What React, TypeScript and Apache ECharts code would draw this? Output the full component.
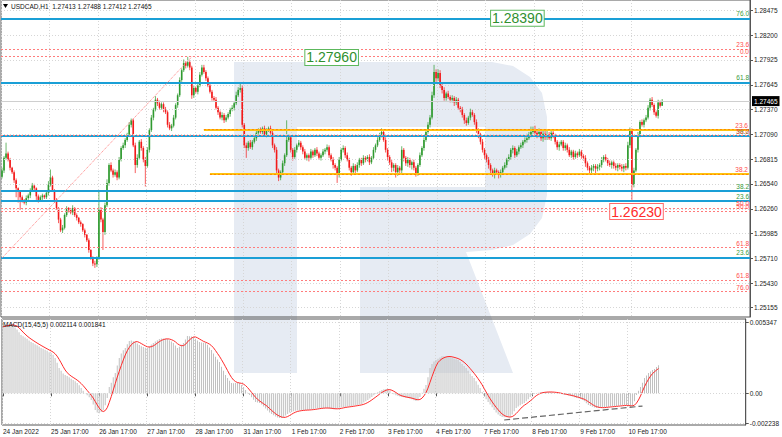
import React, { useEffect, useRef } from "react";
import * as echarts from "echarts";

// ---------- DATA ----------
const firstOpen = 1.2662;
const closes = [
  1.2669,1.2683,1.2688,1.2681,1.2672,1.2667,1.2658,1.2649,1.2645,1.2639,
  1.2636,1.2633,1.2638,1.2641,1.2647,1.2652,1.2649,1.2640,1.2636,1.2639,
  1.2641,1.2639,1.2644,1.2653,1.2661,1.2647,1.2636,1.2627,1.2614,1.2602,
  1.2605,1.2619,1.2627,1.2625,1.2622,1.2627,1.2619,1.2616,1.2611,1.2609,
  1.2602,1.2597,1.2591,1.2580,1.2571,1.2565,1.2564,1.2571,1.2625,1.2614,
  1.2600,1.2630,1.2655,1.2675,1.2669,1.2664,1.2667,1.2661,1.2681,1.2694,
  1.2697,1.2703,1.2709,1.2720,1.2725,1.2697,1.2675,1.2683,1.2701,1.2694,
  1.2681,1.2674,1.2692,1.2714,1.2728,1.2737,1.2748,1.2744,1.2739,1.2743,
  1.2737,1.2734,1.2720,1.2716,1.2719,1.2728,1.2742,1.2753,1.2770,1.2781,
  1.2789,1.2786,1.2790,1.2784,1.2753,1.2761,1.2757,1.2764,1.2776,1.2784,
  1.2779,1.2772,1.2764,1.2757,1.2750,1.2748,1.2739,1.2734,1.2728,1.2731,
  1.2725,1.2728,1.2732,1.2737,1.2739,1.2744,1.2753,1.2759,1.2761,1.2720,
  1.2697,1.2694,1.2700,1.2695,1.2701,1.2705,1.2711,1.2714,1.2712,1.2716,
  1.2709,1.2714,1.2716,1.2711,1.2697,1.2692,1.2669,1.2661,1.2667,1.2677,
  1.2686,1.2703,1.2706,1.2692,1.2684,1.2692,1.2697,1.2700,1.2695,1.2690,
  1.2683,1.2686,1.2683,1.2690,1.2686,1.2692,1.2688,1.2683,1.2686,1.2690,
  1.2692,1.2695,1.2686,1.2681,1.2675,1.2672,1.2664,1.2681,1.2692,1.2694,
  1.2686,1.2681,1.2672,1.2667,1.2674,1.2669,1.2675,1.2681,1.2677,1.2683,
  1.2681,1.2684,1.2678,1.2683,1.2692,1.2697,1.2703,1.2709,1.2712,1.2703,
  1.2692,1.2684,1.2678,1.2672,1.2675,1.2667,1.2672,1.2669,1.2692,1.2683,
  1.2677,1.2681,1.2675,1.2678,1.2672,1.2666,1.2675,1.2686,1.2694,1.2703,
  1.2712,1.2720,1.2728,1.2753,1.2779,1.2772,1.2778,1.2764,1.2759,1.2750,
  1.2755,1.2751,1.2748,1.2750,1.2745,1.2748,1.2739,1.2737,1.2731,1.2725,
  1.2722,1.2728,1.2734,1.2731,1.2723,1.2714,1.2709,1.2701,1.2692,1.2686,
  1.2681,1.2675,1.2669,1.2666,1.2669,1.2667,1.2664,1.2667,1.2672,1.2675,
  1.2681,1.2684,1.2692,1.2694,1.2686,1.2690,1.2695,1.2697,1.2701,1.2703,
  1.2705,1.2709,1.2712,1.2714,1.2711,1.2709,1.2712,1.2705,1.2710,1.2706,
  1.2709,1.2705,1.2711,1.2707,1.2701,1.2695,1.2698,1.2701,1.2694,1.2697,
  1.2692,1.2686,1.2690,1.2684,1.2688,1.2686,1.2690,1.2685,1.2683,1.2677,
  1.2672,1.2669,1.2672,1.2674,1.2671,1.2673,1.2675,1.2681,1.2684,1.2681,
  1.2677,1.2675,1.2678,1.2674,1.2672,1.2675,1.2673,1.2671,1.2674,1.2672,
  1.2697,1.2714,1.2653,1.2669,1.2692,1.2709,1.2723,1.2720,1.2725,1.2728,
  1.2739,1.2748,1.2742,1.2734,1.2730,1.2745,1.27413,1.27465,
];
// wick lengths in pips (above body / below body)
const upWick = [
  3,2,12,2,2,1,2,2,1,2, 2,1,3,2,2,3,2,1,2,2, 2,1,3,4,9,2,1,2,1,2, 3,2,2,1,2,3,1,2,1,2,
  1,2,1,2,1,2,3,2,20,3, 2,3,4,2,3,2,3,2,3,2, 3,2,2,3,2,2,3,4,2,3, 2,3,3,2,3,2,4,2,3,2,
  2,3,2,3,2,3,2,2,3,2, 4,2,6,2,2,3,2,2,3,3, 3,2,2,3,2,2,3,2,2,3, 2,3,2,2,3,2,4,3,5,3,
  2,3,2,3,2,3,2,2,3,2, 3,2,2,3,2,2,3,2,2,3, 2,22,3,2,2,3,2,3,2,2, 3,2,2,3,2,2,3,2,2,3,
  2,3,2,2,3,2,2,3,2,3, 2,3,2,2,3,2,3,2,2,3, 2,2,3,2,3,2,3,2,4,2, 3,2,2,3,2,2,3,2,4,2,
  2,3,2,2,3,2,2,3,2,3, 2,3,3,4,8,3,4,3,2,3, 2,3,2,3,2,3,2,2,3,2, 3,2,4,3,2,3,2,2,3,2,
  2,3,2,2,3,2,2,3,2,3, 2,3,2,3,2,3,2,3,2,3, 5,3,6,4,5,3,4,3,4,3, 4,3,3,2,3,2,3,2,2,3,
  2,3,2,2,3,2,3,2,2,3, 2,2,3,2,2,3,2,3,2,3, 2,3,2,2,3,2,2,3,2,3, 4,3,2,3,2,3,2,3,2,3,
  3,2,3,2,2,3,2,2.3,
];
const downWick = [
  2,3,2,2,3,2,3,10,12,14, 3,2,3,2,3,2,3,4,3,2, 3,2,2,3,2,2,3,2,4,2, 3,2,2,3,2,3,2,3,2,3,
  2,3,2,3,2,3,4,3,2,3, 20,3,2,3,2,3,2,3,2,2, 2,3,2,2,3,2,9,3,2,3, 3,23,2,3,2,3,2,3,2,2,
  3,2,3,2,3,2,2,3,2,2, 2,3,2,3,4,3,2,3,2,2, 2,3,2,2,3,2,2,3,2,3, 3,2,2,3,2,3,2,2,3,3,
  3,11,3,2,3,2,3,2,2,3, 2,3,2,2,3,3,4,4,3,2, 3,2,2,3,4,2,3,2,3,3, 2,3,4,2,3,2,3,2,3,2,
  3,2,3,2,4,3,9,3,2,3, 3,2,3,4,3,3,2,3,3,2, 3,2,3,2,2,3,2,2,3,2, 3,4,3,5,4,6,4,3,3,4,
  3,4,3,5,3,4,3,2,2,3, 2,2,3,2,3,4,3,3,4,3, 3,2,3,3,4,3,2,3,3,4, 3,2,3,2,3,3,4,3,3,4,
  3,4,5,4,6,3,4,3,3,2, 3,2,3,4,3,2,3,2,3,2, 3,2,3,2,3,4,3,3,4,3, 3,2,3,2,3,3,4,2,3,3,
  3,2,3,3,2,3,2,3,3,4, 3,3,4,4,6,3,4,3,3,2, 3,2,4,3,3,4,3,3,4,3, 2,3,17,3,2,3,3,2,3,2,
  2,3,2,3,2,3,2,0.1,
];
// MACD(15,45,5) main values, in thousandths
const macdMilli = [
  5.0,5.1,5.15,5.2,5.2,5.1,4.95,4.8,4.6,4.4, 4.3,4.2,4.1,3.98,3.86,3.78,3.7,3.62,3.52,3.41,
  3.35,3.28,3.2,3.1,3.03,2.9,2.66,2.3,1.9,1.7, 1.5,1.38,1.3,1.2,1.1,1.0,0.9,0.78,0.6,0.4,
  0.2,0.02,-0.15,-0.3,-0.5,-0.85,-1.26,-1.45,-1.5,-1.4, -1.26,-0.9,-0.35,0.47,0.8,1.2,1.53,2.1,2.66,3.0,
  3.25,3.41,3.7,3.94,3.98,3.92,3.86,3.76,3.64,3.55, 3.48,3.44,3.41,3.55,3.68,3.79,3.9,4.0,4.09,4.12,
  4.12,4.1,4.09,4.0,3.9,3.79,3.6,3.41,3.5,3.65, 3.79,4.05,4.31,4.3,4.28,4.24,4.1,3.98,3.86,3.83,
  3.8,3.79,3.65,3.45,3.26,3.0,2.75,2.55,2.36,2.0, 1.7,1.38,1.15,0.95,0.78,0.75,0.78,0.8,0.78,0.62,
  0.47,0.25,0.05,-0.13,-0.3,-0.48,-0.66,-0.7,-0.73,-0.85, -1.0,-1.15,-1.3,-1.45,-1.55,-1.65,-1.75,-1.82,-1.86,-1.86,
  -1.8,-1.68,-1.55,-1.45,-1.4,-1.35,-1.32,-1.3,-1.28,-1.27, -1.26,-1.25,-1.26,-1.24,-1.2,-1.18,-1.15,-1.13,-1.12,-1.1,
  -1.1,-1.1,-1.12,-1.15,-1.18,-1.2,-1.18,-1.12,-1.08,-1.05, -1.03,-1.03,-1.0,-0.98,-0.95,-0.92,-0.9,-0.88,-0.85,-0.8,
  -0.7,-0.6,-0.5,-0.4,-0.28,-0.15,-0.05,0.08,0.18,0.25, 0.3,0.32,0.3,0.2,0.02,-0.08,-0.15,-0.2,-0.25,-0.28,
  -0.3,-0.33,-0.35,-0.4,-0.45,-0.52,-0.58,-0.5,-0.28,0.05, 0.35,0.62,1.2,1.9,2.2,2.4,2.5,2.6,2.7,2.8,
  2.8,2.78,2.75,2.73,2.68,2.62,2.56,2.5,2.38,2.2, 2.05,1.9,1.7,1.5,1.3,1.15,0.9,0.65,0.4,0.1,
  -0.2,-0.45,-0.66,-0.85,-1.05,-1.26,-1.45,-1.6,-1.7,-1.78, -1.8,-1.8,-1.79,-1.78,-1.6,-1.35,-1.1,-1.0,-0.9,-0.8,
  -0.73,-0.6,-0.45,-0.28,-0.15,-0.05,0.02,0.05,0.08,0.1, 0.1,0.1,0.1,0.1,0.08,0.05,0.02,0.0,-0.05,-0.08,
  -0.1,-0.13,-0.17,-0.2,-0.25,-0.3,-0.35,-0.38,-0.43,-0.5, -0.6,-0.75,-0.88,-0.95,-1.02,-1.06,-1.1,-1.1,-1.08,-1.06,
  -1.05,-1.03,-1.01,-1.0,-0.98,-0.97,-0.96,-0.94,-0.92,-0.9, -0.88,-0.9,-0.98,-1.03,-0.95,-0.6,-0.13,0.2,0.47,0.8,
  1.15,1.35,1.53,1.65,1.75,1.83,1.98,2.114,
];
const dayLabels = [
  "24 Jan 2022","25 Jan 17:00","26 Jan 17:00","27 Jan 17:00","28 Jan 17:00","31 Jan 17:00",
  "1 Feb 17:00","2 Feb 17:00","3 Feb 17:00","4 Feb 17:00","7 Feb 17:00","8 Feb 17:00",
  "9 Feb 17:00","10 Feb 17:00",
];
const priceTicks = [1.28475,1.282,1.27925,1.27645,1.2737,1.2709,1.26815,1.2654,1.2626,1.25985,1.2571,1.2543,1.25155];
const macdTicks = [0.005347, 0, -0.002238];

// Fibonacci / level lines
const levelPrices = [1.2839,1.28045,1.27965,1.27675,1.27147,1.27075,1.27078,1.2665,1.2646,1.26353,1.26266,1.26236,1.25826,1.25718,1.25461,1.25334];
const levelTexts  = ["76.0","23.6","0.0","61.8","23.6","38.2","50.0","38.2","38.2","23.6","50.0","50.0","61.8","23.6","61.8","76.0"];
const levelKinds  = ["blue","red","red","blue","orange","blue","red","orange","blue","blue","red","red","red","blue","red","red"];
const levelStart  = [0,0,0,0,100,0,0,103,0,0,0,0,0,0,0,0];

const lastPrice = 1.27465;
const fibTrend = { fromBar: 0, fromPrice: 1.2571, toBar: 94, toPrice: 1.2796 };
const macdTrend = { fromBar: 250, fromVal: -0.00201, toBar: 319, toVal: -0.00096 };
const boxes = [
  { bar: 242, price: 1.2839, text: "1.28390", kind: "green" },
  { bar: 150, price: 1.27953, text: "1.27960", kind: "green" },
  { bar: 301, price: 1.2623, text: "1.26230", kind: "red" },
];

const SLOTS = 371;
const PIP = 0.0001;
const FONT = "Liberation Sans";
const UP = "#2f9a2f";
const DOWN = "#f21a1a";

export default function App() {
  const ref = useRef<HTMLDivElement>(null);
  useEffect(() => {
    const chart = echarts.init(ref.current!, null, { renderer: "svg" });
    const cats = Array.from({ length: SLOTS }, (_, i) => String(i));
    const candles = closes.map((c, i) => {
      const o = i === 0 ? firstOpen : closes[i - 1];
      const hi = Math.max(o, c) + upWick[i] * PIP;
      const lo = Math.min(o, c) - downWick[i] * PIP;
      return [i, o, c, lo, hi];
    });
    const macd = macdMilli.map((v) => v / 1000);
    const signal = macd.map((_, i) => {
      const s = macd.slice(Math.max(0, i - 4), i + 1);
      return s.reduce((a, b) => a + b, 0) / s.length;
    });

    const green = "#3a9a3a";
    const red = "#ff4d4d";
    const lineFor = (k: string) =>
      k === "blue" ? { color: "#1a9fd6", width: 2, type: "solid" }
      : k === "orange" ? { color: "#ffc20e", width: 2, type: "solid" }
      : { color: "#ff7c7c", width: 1, type: [2, 2] };

    const levelLines: any[] = [];
    levelPrices.forEach((p, i) => {
      const label = {
        show: true, position: "insideEndTop", formatter: levelTexts[i], distance: 1,
        color: levelKinds[i] === "blue" ? green : red, fontSize: 6.5, fontFamily: FONT,
      };
      if (levelStart[i] === 0) {
        levelLines.push({ yAxis: p, lineStyle: lineFor(levelKinds[i]), label });
      } else {
        levelLines.push([
          { coord: [levelStart[i], p], lineStyle: lineFor(levelKinds[i]), label },
          { coord: [SLOTS - 1, p] },
        ]);
        if (levelKinds[i] === "orange") {
          levelLines.push([
            { coord: [levelStart[i], p], lineStyle: { color: "#ff8a00", width: 1, type: [2, 2] }, label: { show: false } },
            { coord: [SLOTS - 1, p] },
          ]);
        }
      }
    });
    const gridLinesMain = priceTicks.map((p) => ({
      yAxis: p, lineStyle: { color: "#d6d6d6", width: 1, type: [1, 2] }, label: { show: false },
    }));
    const gridLinesMacd = macdTicks.map((p) => ({
      yAxis: p, lineStyle: { color: "#d6d6d6", width: 1, type: [1, 2] }, label: { show: false },
    }));

    const xTickInterval = (idx: number) => idx % 24 === 0 && idx / 24 < dayLabels.length;
    const xAxisCommon = {
      type: "category", data: cats, boundaryGap: true,
      axisLine: { show: false },
      splitLine: { show: true, interval: xTickInterval, lineStyle: { color: "#d6d6d6", type: [1, 2] } },
    };

    const renderCandle = (params: any, api: any) => {
      const x = api.value(0);
      const o = api.value(1), c = api.value(2), lo = api.value(3), hi = api.value(4);
      const pO = api.coord([x, o]);
      const pC = api.coord([x, c]);
      const pL = api.coord([x, lo]);
      const pH = api.coord([x, hi]);
      const col = c >= o ? UP : DOWN;
      const top = Math.min(pO[1], pC[1]);
      const h = Math.max(1, Math.abs(pO[1] - pC[1]));
      return {
        type: "group",
        children: [
          { type: "line", shape: { x1: pH[0], y1: pH[1], x2: pL[0], y2: pL[1] }, style: { stroke: col, lineWidth: 1, opacity: 0.7 } },
          { type: "rect", shape: { x: pO[0] - 0.8, y: top, width: 1.6, height: h }, style: { fill: col } },
        ],
      };
    };

    const option: any = {
      animation: false,
      backgroundColor: "#ffffff",
      textStyle: { fontFamily: FONT },
      grid: [
        { left: 1, right: 32, top: 0, height: 317, show: true, borderColor: "#555", borderWidth: 1, backgroundColor: "transparent" },
        { left: 1, right: 32, top: 319, height: 106, show: true, borderColor: "#555", borderWidth: 1, backgroundColor: "transparent" },
      ],
      xAxis: [
        { ...xAxisCommon, gridIndex: 0, axisTick: { show: false }, axisLabel: { show: false } },
        {
          ...xAxisCommon, gridIndex: 1,
          axisTick: { show: true, interval: xTickInterval, alignWithLabel: true, length: 3, lineStyle: { color: "#555" } },
          axisLabel: {
            show: true, interval: xTickInterval, align: "left", margin: 3, fontSize: 6.5, color: "#222",
            formatter: (v: string) => dayLabels[Number(v) / 24] ?? "",
          },
        },
      ],
      yAxis: [
        {
          type: "value", gridIndex: 0, position: "right", min: 1.25051, max: 1.28595,
          axisLine: { show: true, lineStyle: { color: "#555" } },
          axisTick: { show: true, customValues: priceTicks, length: 3, lineStyle: { color: "#555" } },
          axisLabel: { show: true, customValues: priceTicks, margin: 4, fontSize: 6.5, color: "#222", formatter: (v: number) => v.toFixed(5) },
          splitLine: { show: false },
        },
        {
          type: "value", gridIndex: 1, position: "right", min: -0.002387, max: 0.005596,
          axisLine: { show: true, lineStyle: { color: "#555" } },
          axisTick: { show: true, customValues: macdTicks, length: 3, lineStyle: { color: "#555" } },
          axisLabel: {
            show: true, customValues: macdTicks, margin: 4, fontSize: 6.5, color: "#222",
            formatter: (v: number) => (Math.abs(v) < 1e-9 ? "0.00" : v.toFixed(6)),
          },
          splitLine: { show: false },
        },
      ],
      series: [
        {
          // carrier of the level lines and boxes (invisible line of closes)
          type: "line", name: "levels", xAxisIndex: 0, yAxisIndex: 0, data: closes,
          showSymbol: false, symbol: "none", silent: true, lineStyle: { opacity: 0 }, z: 2,
          markLine: {
            silent: true, symbol: ["none", "none"], animation: false, precision: 6,
            data: [
              ...gridLinesMain,
              { yAxis: lastPrice, lineStyle: { color: "#cfcfcf", width: 1, type: "solid" },
                label: { show: true, position: "end", distance: 2, formatter: lastPrice.toFixed(5), color: "#fff",
                  backgroundColor: "#000", padding: [2, 2, 1, 2], fontSize: 6.5, fontFamily: FONT } },
              ...levelLines,
              [
                { coord: [fibTrend.fromBar, fibTrend.fromPrice], lineStyle: { color: "#ff8080", width: 1, type: [1, 1] }, label: { show: false } },
                { coord: [fibTrend.toBar, fibTrend.toPrice] },
              ],
            ],
          },
          markPoint: {
            silent: true, animation: false, symbol: "rect", symbolSize: 1, itemStyle: { color: "rgba(0,0,0,0)" },
            data: boxes.map((b) => ({
              coord: [b.bar, b.price],
              label: {
                show: true, position: "right", distance: 0, formatter: b.text, fontSize: 14, fontFamily: FONT,
                color: b.kind === "green" ? "#2f8f2f" : "#ff2a2a", backgroundColor: "#fff",
                borderColor: b.kind === "green" ? "#5cb85c" : "#ff6a6a", borderWidth: 1, padding: [1, 1, 0, 1],
              },
            })),
          },
        },
        {
          type: "custom", name: "USDCAD", xAxisIndex: 0, yAxisIndex: 0, data: candles,
          encode: { x: 0, y: [1, 2, 3, 4] }, renderItem: renderCandle, z: 3, silent: true,
        },
        {
          type: "bar", xAxisIndex: 1, yAxisIndex: 1, data: macd, barWidth: 1,
          itemStyle: { color: "#c0c0c0" },
          markLine: {
            silent: true, symbol: ["none", "none"], animation: false, precision: 8,
            data: [
              ...gridLinesMacd,
              [
                { coord: [macdTrend.fromBar, macdTrend.fromVal], lineStyle: { color: "#666", width: 1.2, type: [6, 3] }, label: { show: false } },
                { coord: [macdTrend.toBar, macdTrend.toVal] },
              ],
            ],
          },
        },
        {
          type: "line", xAxisIndex: 1, yAxisIndex: 1, data: signal, showSymbol: false, symbol: "none",
          lineStyle: { color: "#ff2a2a", width: 1 }, z: 4,
        },
      ],
      graphic: [
        {
          type: "group", z: -10, silent: true,
          children: [
            { type: "rect", z: -10, shape: { x: 234, y: 62, width: 63, height: 311 }, style: { fill: "#e6ebf3" } },
            {
              type: "polygon", z: -10,
              shape: {
                points: [
                  [297, 62], [492, 62], [513, 66], [530, 77], [542, 93], [547, 117], [547, 195], [542, 218],
                  [530, 234], [513, 245], [492, 250], [466, 252], [513, 373], [360, 373], [360, 187],
                  [485, 187], [485, 127], [297, 127],
                ],
              },
              style: { fill: "#e6ebf3" },
            },
          ],
        },
        { type: "polygon", z: 20, shape: { points: [[3, 4], [8, 4], [5.5, 8]] }, style: { fill: "#000" } },
        {
          type: "text", z: 20, x: 11, y: 6,
          style: { text: "USDCAD,H1  1.27413 1.27488 1.27412 1.27465", fontSize: 6.5, fontFamily: FONT, fill: "#111", textVerticalAlign: "middle" },
        },
        {
          type: "text", z: 20, x: 3, y: 324,
          style: { text: "MACD(15,45,5) 0.002114 0.001841", fontSize: 6.5, fontFamily: FONT, fill: "#111", textVerticalAlign: "middle" },
        },
      ],
    };
    chart.setOption(option);
    return () => chart.dispose();
  }, []);
  return <div ref={ref} style={{ position: "fixed", left: 0, top: 0, width: 782, height: 437 }} />;
}
